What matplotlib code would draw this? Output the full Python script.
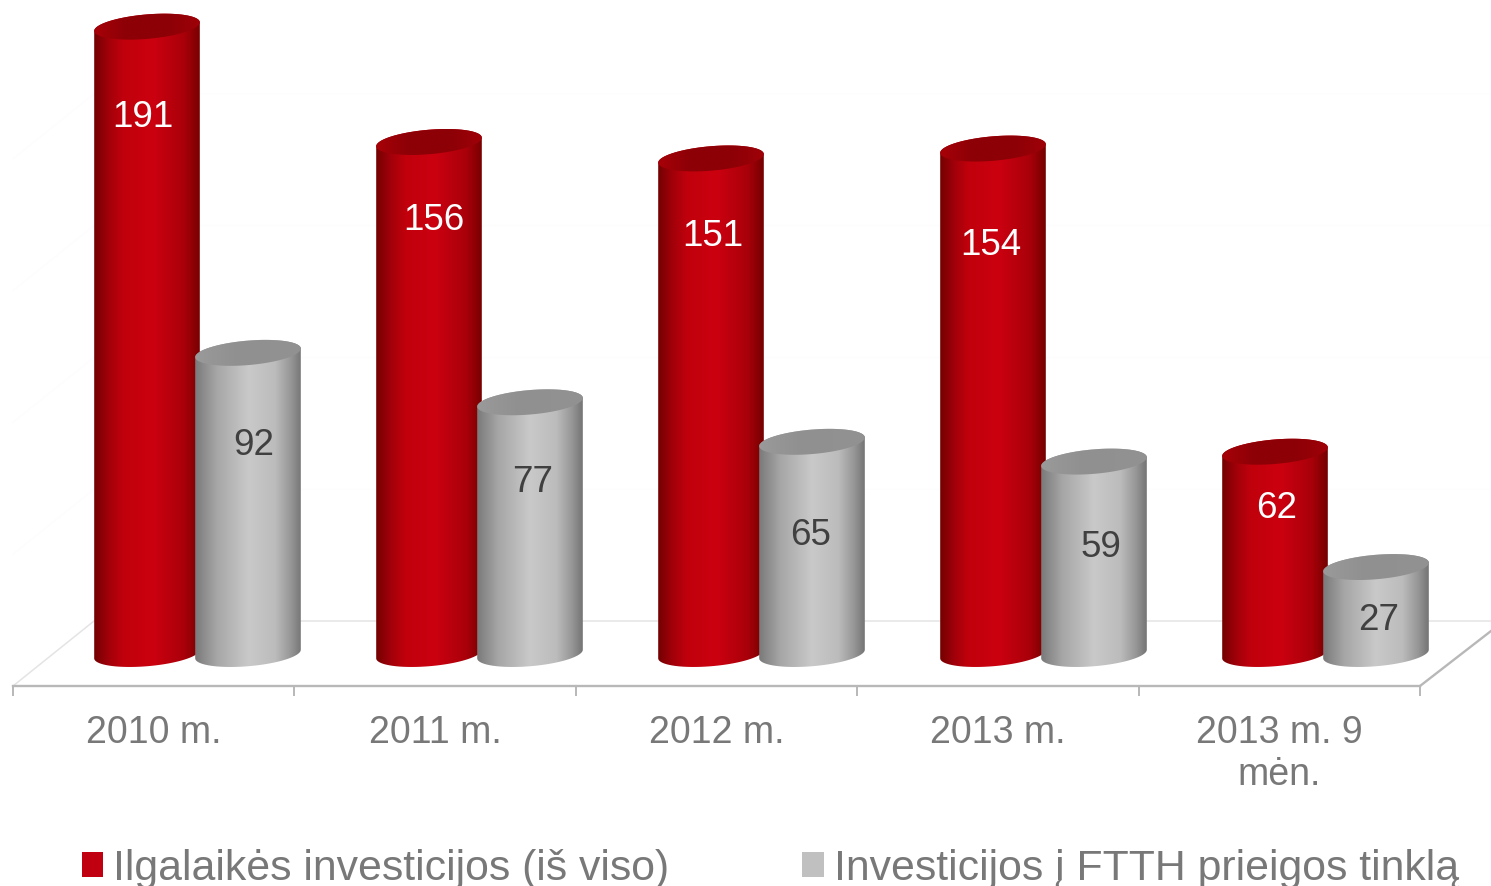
import numpy as np
import matplotlib
matplotlib.use("Agg")
import matplotlib.pyplot as plt
from matplotlib.colors import LinearSegmentedColormap
from matplotlib.patches import Polygon, Patch

plt.rcParams['font.family'] = ['Liberation Sans', 'DejaVu Sans']

# ---- data
categories = ["2010 m.", "2011 m.", "2012 m.", "2013 m.", "2013 m. 9\nmėn."]
series_names = ["Ilgalaikės investicijos (iš viso)", "Investicijos į FTTH prieigos tinklą"]
total_investment = [191, 156, 151, 154, 62]
ftth_investment = [92, 77, 65, 59, 27]

# ---- layout (figure pixels)
W, H = 1491, 887
AX_L, AX_R, AX_B = 13, 1420, 687
PX_CAT = (AX_R - AX_L) / 5
PX_UNIT = 3.295
ZERO_PX = 657
BASE_PX = 655
A, B, TILT = 53, 12.2, np.deg2rad(4.9)
RED_OFF, GREY_OFF = -6.7 / PX_CAT, 94.3 / PX_CAT
SPACING = 282 / PX_CAT
RED_LABEL_XY = [(142.5, 117.5), (433.5, 220.5), (712.5, 236.5), (990.5, 245.5), (1276.5, 508.5)]
GREY_LABEL_XY = [(254, 445.5), (533, 482.5), (811, 535.5), (1100.5, 547.5), (1379, 620.5)]

red_cmap = LinearSegmentedColormap.from_list("r", [(0, "#730000"), (.13, "#a0000a"), (.27, "#c0000c"),
                                                  (.55, "#cc0010"), (.85, "#a8000a"), (1, "#750000")])
grey_cmap = LinearSegmentedColormap.from_list("g", [(0, "#7a7a7a"), (.2, "#a6a6a6"), (.5, "#c9c9c9"),
                                                   (.75, "#bcbcbc"), (.9, "#969696"), (1, "#747474")])
red_top = LinearSegmentedColormap.from_list("rt", [(0, "#a80008"), (.3, "#8c0006"), (.7, "#8c0006"), (1, "#a00008")])
grey_top = LinearSegmentedColormap.from_list("gt", [(0, "#9a9a9a"), (.4, "#909090"), (1, "#929292")])

fig = plt.figure(figsize=(W / 100, H / 100), dpi=100, facecolor="white")
ax = fig.add_axes([AX_L / W, (H - AX_B) / H, (AX_R - AX_L) / W, AX_B / H])
xlim = (-0.5, 4.5)
ylim = ((ZERO_PX - AX_B) / PX_UNIT, ZERO_PX / PX_UNIT)


def pts(x_px, y_px):
    """figure-pixel coordinates (top-left origin) to data coordinates."""
    return (np.asarray(x_px) - AX_L) / PX_CAT - 0.5, (ZERO_PX - np.asarray(y_px)) / PX_UNIT


def ell(cx, value, t):
    dx = A * np.cos(t)
    dy = B * np.sin(t)
    px = dx * np.cos(TILT) - dy * np.sin(TILT)
    py = dx * np.sin(TILT) + dy * np.cos(TILT)
    return cx + px / PX_CAT, value + py / PX_UNIT


def gradient(path_xy, x0, x1, y0, y1, cmap, z):
    patch = Polygon(path_xy, closed=True, transform=ax.transData, fc="none", ec="none")
    ax.add_patch(patch)
    patch.set_clip_on(False)
    im = ax.imshow(np.linspace(0, 1, 256)[None, :], extent=(x0, x1, y0, y1), aspect="auto",
                   cmap=cmap, interpolation="bilinear", zorder=z)
    im.set_clip_box(fig.bbox)
    im.set_clip_path(patch)


def cylinder(cx, value, body_cmap, top_cmap, z):
    lo = np.linspace(np.pi, 2 * np.pi, 60)          # front rim of the base
    xb, yb = ell(cx, (ZERO_PX - BASE_PX) / PX_UNIT, lo)
    hi = np.linspace(0, np.pi, 60)                  # back rim of the top
    xt, yt = ell(cx, value, hi)
    body = np.column_stack([np.r_[xb, xt], np.r_[yb, yt]])
    x0, x1 = cx - A / PX_CAT, cx + A / PX_CAT
    gradient(body, x0, x1, -5, value + 5, body_cmap, z)
    t = np.linspace(0, 2 * np.pi, 120)
    xe, ye = ell(cx, value, t)
    gradient(np.column_stack([xe, ye]), x0, x1, value - 5, value + 5, top_cmap, z + 0.1)


# ---- floor and faint back wall
for v in (40, 80, 120, 160):
    bx, by = pts([13, 94, 1491], [687 - PX_UNIT * v, 622 - PX_UNIT * v, 622 - PX_UNIT * v])
    ax.plot(bx, by, color="#fdfdfd", lw=1, clip_on=False, zorder=1)
bx, by = pts([13, 94, 1491], [687, 622, 622])
ax.plot(bx, by, color="#e4e4e4", lw=1.1, clip_on=False, zorder=1)
bx, by = pts([1420, 1491], [687, 632])
ax.plot(bx, by, color="#b8b8b8", lw=1.7, clip_on=False, zorder=1)

# ---- bars
for i in range(len(categories)):
    cylinder(i * SPACING + RED_OFF, total_investment[i], red_cmap, red_top, 3 + i)
    cylinder(i * SPACING + GREY_OFF, ftth_investment[i], grey_cmap, grey_top, 3.5 + i)
    x, y = pts(*RED_LABEL_XY[i])
    ax.text(x, y, str(total_investment[i]), color="white", fontsize=26.5, ha="center", va="center", zorder=20)
    x, y = pts(*GREY_LABEL_XY[i])
    ax.text(x, y, str(ftth_investment[i]), color="#404040", fontsize=26.5, ha="center", va="center", zorder=20)

ax.set_xlim(*xlim)
ax.set_ylim(*ylim)
ax.patch.set_visible(False)
for s in ("top", "left", "right"):
    ax.spines[s].set_visible(False)
ax.spines["bottom"].set_color("#b8b8b8")
ax.spines["bottom"].set_linewidth(1.7)
ax.set_yticks([])
ax.set_xticks(range(len(categories)))
ax.set_xticklabels(categories, fontsize=27, color="#787878", linespacing=1.2)
ax.set_xticks(np.arange(-0.5, 5), minor=True)
ax.tick_params(axis="x", which="major", length=0, pad=20.5)
ax.tick_params(axis="x", which="minor", length=7, width=1.4, color="#b8b8b8")

handles = [Patch(fc="#c00010", ec="none"), Patch(fc="#c0c0c0", ec="none")]
fig.legend(handles, series_names, ncol=2, loc="lower left", bbox_to_anchor=(73 / W, -11 / H),
           frameon=False, fontsize=30.8, labelcolor="#787878", handlelength=0.51, handleheight=0.51,
           handletextpad=0.233, columnspacing=3.1, borderpad=0.2, borderaxespad=0)

fig.savefig("out.png", dpi=100, facecolor="white")
